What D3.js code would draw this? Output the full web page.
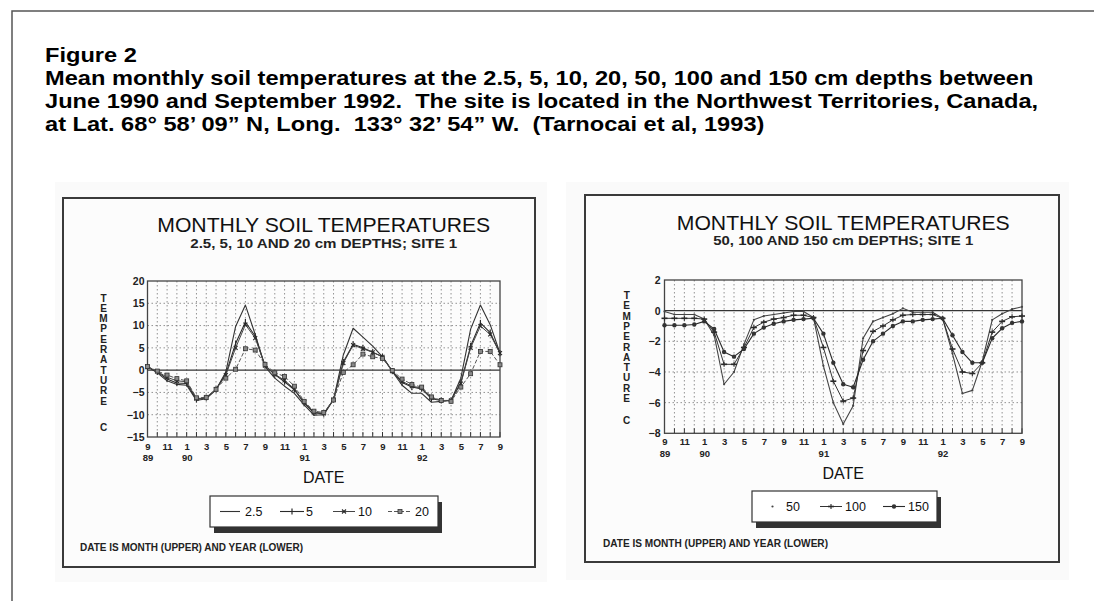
<!DOCTYPE html>
<html>
<head>
<meta charset="utf-8">
<script src="https://cdn.jsdelivr.net/npm/d3@7"></script>
<style>
  html, body { margin: 0; padding: 0; background: #fff; }
  svg { display: block; font-family: "Liberation Sans", Arial, Helvetica, sans-serif; }
</style>
</head>
<body>
<svg id="fig" width="1094" height="601"></svg>
<script>
// ---- Data -----------------------------------------------------------
// Month index 0 = Sep 1989 ... 36 = Sep 1992 (monthly means)
const monthIndex = d3.range(0, 37);
const monthTicks = [0, 2, 4, 6, 8, 10, 12, 14, 16, 18, 20, 22, 24, 26, 28, 30, 32, 34, 36];
const monthLabels = ["9", "11", "1", "3", "5", "7", "9", "11", "1", "3", "5", "7", "9", "11", "1", "3", "5", "7", "9"];
const yearTicks = [0, 4, 16, 28];
const yearLabels = ["89", "90", "91", "92"];

// Shallow depths (cm), degrees C
const shallowDepths = ["2.5", "5", "10", "20"];
const temp2_5 = [0.8, -0.6, -2.4, -3.2, -3.4, -6.8, -6.4, -4.4, -0.4, 9.8, 14.6, 8.0, 0.8, -1.8, -3.6, -5.2, -7.8, -10.1, -10.0, -6.6, 3.4, 9.4, 7.4, 5.4, 3.0, -0.3, -3.4, -5.2, -5.2, -7.2, -7.0, -6.8, -1.8, 9.2, 14.6, 10.2, 3.8];
const temp5   = [0.7, -0.4, -2.0, -2.9, -3.0, -6.6, -6.2, -4.3, -0.9, 6.0, 10.8, 7.6, 1.0, -1.0, -2.6, -4.4, -7.4, -9.6, -9.8, -6.6, 1.8, 5.8, 5.0, 4.0, 3.0, -0.2, -2.8, -3.8, -4.2, -6.4, -6.8, -6.8, -2.8, 5.4, 10.6, 8.4, 3.8];
const temp10  = [0.7, -0.3, -1.6, -2.4, -2.6, -6.4, -6.2, -4.3, -1.1, 5.0, 10.2, 7.2, 1.0, -0.9, -2.3, -4.2, -7.2, -9.4, -9.7, -6.6, 1.6, 5.6, 4.8, 4.0, 3.0, -0.2, -2.5, -3.6, -4.0, -6.2, -6.8, -6.8, -3.0, 5.0, 9.9, 8.0, 3.8];
const temp20  = [0.8, -0.2, -1.1, -1.9, -2.4, -6.2, -6.1, -4.3, -1.8, 0.2, 4.8, 4.5, 1.3, -0.6, -1.4, -3.6, -7.0, -9.2, -9.5, -6.7, -0.5, 1.2, 3.6, 3.0, 2.6, -0.1, -2.0, -3.2, -3.8, -6.0, -6.8, -7.0, -3.8, -0.8, 4.2, 4.2, 1.2];
const shallowTicks = [20, 15, 10, 5, 0, -5, -10, -15];

// Deep depths (cm), degrees C
const deepDepths = ["50", "100", "150"];
const temp50  = [-0.05, -0.25, -0.25, -0.25, -0.55, -1.6, -4.8, -4.0, -2.2, -0.6, -0.35, -0.25, -0.15, -0.05, -0.05, -0.45, -3.6, -6.0, -7.4, -6.2, -1.8, -0.7, -0.45, -0.2, 0.15, -0.1, -0.1, -0.1, -0.5, -2.8, -5.4, -5.2, -3.3, -0.6, -0.2, 0.1, 0.25];
const temp100 = [-0.5, -0.5, -0.5, -0.5, -0.55, -1.4, -3.5, -3.5, -2.4, -1.1, -0.75, -0.55, -0.45, -0.3, -0.3, -0.45, -2.4, -4.6, -5.9, -5.7, -2.6, -1.35, -1.0, -0.6, -0.3, -0.25, -0.25, -0.25, -0.5, -2.5, -4.0, -4.1, -3.4, -1.4, -0.7, -0.4, -0.35];
const temp150 = [-0.95, -0.95, -0.95, -0.9, -0.7, -1.2, -2.7, -3.0, -2.5, -1.5, -1.1, -0.85, -0.7, -0.6, -0.55, -0.5, -1.5, -3.4, -4.8, -5.0, -3.2, -2.0, -1.5, -1.0, -0.7, -0.7, -0.6, -0.55, -0.5, -1.6, -2.7, -3.4, -3.4, -1.8, -1.15, -0.8, -0.7];
const deepTicks = [2, 0, -2, -4, -6, -8];

const captionLines = [
  "Figure 2",
  "Mean monthly soil temperatures at the 2.5, 5, 10, 20, 50, 100 and 150 cm depths between",
  "June 1990 and September 1992.  The site is located in the Northwest Territories, Canada,",
  "at Lat. 68\u00B0 58\u2019 09\u201D N, Long.  133\u00B0 32\u2019 54\u201D W.  (Tarnocai et al, 1993)"
];

// ---- Page frame and caption ------------------------------------------
const svg = d3.select("#fig");
const INK = "#2a2a2a";

svg.append("path")
  .attr("d", "M12,601 V11 H1094")
  .attr("fill", "none").attr("stroke", "#555").attr("stroke-width", 1.5);

const cap = svg.append("g").attr("transform", "translate(45,0) scale(1.125,1)");
captionLines.forEach((line, i) => {
  cap.append("text")
    .attr("x", 0).attr("y", 61.7 + i * 23)
    .attr("font-size", 21).attr("font-weight", "bold").attr("fill", "#000")
    .style("white-space", "pre")
    .text(line);
});

// ---- Marker shapes ----------------------------------------------------
function drawMarker(g, type, x, y) {
  if (type === "tick") {
    g.append("line").attr("x1", x).attr("x2", x).attr("y1", y - 3).attr("y2", y + 3)
      .attr("stroke", INK).attr("stroke-width", 1.2);
  } else if (type === "plus") {
    g.append("line").attr("x1", x).attr("x2", x).attr("y1", y - 2.5).attr("y2", y + 2.5)
      .attr("stroke", INK).attr("stroke-width", 1.1);
    g.append("line").attr("x1", x - 3).attr("x2", x + 3).attr("y1", y).attr("y2", y)
      .attr("stroke", INK).attr("stroke-width", 1.6);
  } else if (type === "x") {
    g.append("path").attr("d", `M${x-2},${y-2}L${x+2},${y+2}M${x-2},${y+2}L${x+2},${y-2}`)
      .attr("stroke", INK).attr("stroke-width", 1.1);
  } else if (type === "square") {
    g.append("rect").attr("x", x - 2).attr("y", y - 2).attr("width", 4).attr("height", 4)
      .attr("fill", "#888").attr("stroke", "#333").attr("stroke-width", 0.8);
  } else if (type === "dot") {
    g.append("circle").attr("cx", x).attr("cy", y).attr("r", 1.1).attr("fill", "#444");
  } else if (type === "bigdot") {
    g.append("circle").attr("cx", x).attr("cy", y).attr("r", 2.2).attr("fill", "#333");
  }
}

// ---- One chart panel --------------------------------------------------
function drawPanel(cfg) {
  const g = svg.append("g");

  // scanned sheet and its border
  g.append("rect").attr("x", cfg.sheet[0]).attr("y", cfg.sheet[1])
    .attr("width", cfg.sheet[2]).attr("height", cfg.sheet[3]).attr("fill", "#fafafa");
  g.append("rect").attr("x", cfg.frame[0]).attr("y", cfg.frame[1])
    .attr("width", cfg.frame[2] - cfg.frame[0]).attr("height", cfg.frame[3] - cfg.frame[1])
    .attr("fill", "#fcfcfc").attr("stroke", "#3a3a3a").attr("stroke-width", 2);

  const x = d3.scaleLinear().domain([0, 36]).range([cfg.plot.left, cfg.plot.right]);
  const y = d3.scaleLinear().domain(cfg.yDomain).range([cfg.plot.bottom, cfg.plot.top]);
  const cx = (cfg.plot.left + cfg.plot.right) / 2;

  // titles
  g.append("text").attr("x", cx).attr("y", cfg.titleY).attr("text-anchor", "middle")
    .attr("font-size", 21).attr("fill", "#111")
    .attr("textLength", cfg.titleW).attr("lengthAdjust", "spacingAndGlyphs")
    .text("MONTHLY SOIL TEMPERATURES");
  g.append("text").attr("x", cx).attr("y", cfg.subY).attr("text-anchor", "middle")
    .attr("font-size", 12).attr("font-weight", "bold").attr("fill", "#222")
    .attr("textLength", cfg.subW).attr("lengthAdjust", "spacingAndGlyphs")
    .text(cfg.subtitle);

  // vertical axis title, stacked letters
  const word = "TEMPERATURE".split("");
  word.forEach((ch, i) => {
    g.append("text").attr("x", cfg.yTitleX).attr("y", cfg.yTitleTop + i * cfg.yTitleStep)
      .attr("text-anchor", "middle").attr("font-size", 10).attr("font-weight", "bold")
      .attr("fill", "#222").text(ch);
  });
  g.append("text").attr("x", cfg.yTitleX).attr("y", cfg.unitY)
    .attr("text-anchor", "middle").attr("font-size", 10).attr("font-weight", "bold")
    .attr("fill", "#222").text("C");

  // grid
  const grid = g.append("g");
  grid.selectAll("line.v").data(monthIndex.slice(1, -1)).join("line")
    .attr("x1", d => x(d)).attr("x2", d => x(d))
    .attr("y1", cfg.plot.top).attr("y2", cfg.plot.bottom)
    .attr("stroke", "#777").attr("stroke-width", 0.8).attr("stroke-dasharray", "1.5,2.5");
  grid.selectAll("line.h").data(cfg.yTicks.filter(t => t !== 0 && t !== cfg.yDomain[0] && t !== cfg.yDomain[1])).join("line")
    .attr("x1", cfg.plot.left).attr("x2", cfg.plot.right)
    .attr("y1", d => y(d)).attr("y2", d => y(d))
    .attr("stroke", "#777").attr("stroke-width", 0.8).attr("stroke-dasharray", "1.5,2.5");
  // month tick marks along the bottom edge
  grid.selectAll("line.t").data(monthIndex).join("line")
    .attr("x1", d => x(d)).attr("x2", d => x(d))
    .attr("y1", cfg.plot.bottom).attr("y2", cfg.plot.bottom - 5)
    .attr("stroke", "#333").attr("stroke-width", 1);
  // zero line
  g.append("line").attr("x1", cfg.plot.left).attr("x2", cfg.plot.right)
    .attr("y1", y(0)).attr("y2", y(0)).attr("stroke", "#333").attr("stroke-width", 1.4);

  // plot frame
  g.append("rect").attr("x", cfg.plot.left).attr("y", cfg.plot.top)
    .attr("width", cfg.plot.right - cfg.plot.left).attr("height", cfg.plot.bottom - cfg.plot.top)
    .attr("fill", "none").attr("stroke", "#444").attr("stroke-width", 1.3);

  // axes
  const yAxis = g.append("g").attr("transform", `translate(${cfg.plot.left},0)`)
    .call(d3.axisLeft(y).tickValues(cfg.yTicks).tickSize(0).tickPadding(cfg.yPad).tickFormat(d3.format("d")));
  const xAxis = g.append("g").attr("transform", `translate(0,${cfg.plot.bottom})`)
    .call(d3.axisBottom(x).tickValues(monthTicks).tickSize(0).tickPadding(cfg.monthPad)
      .tickFormat((d, i) => monthLabels[i]));
  const yrAxis = g.append("g").attr("transform", `translate(0,${cfg.plot.bottom})`)
    .call(d3.axisBottom(x).tickValues(yearTicks).tickSize(0).tickPadding(cfg.yearPad)
      .tickFormat((d, i) => yearLabels[i]));
  [yAxis, xAxis, yrAxis].forEach(a => {
    a.select(".domain").remove();
    a.selectAll("text").attr("font-size", 9.5).attr("font-weight", "bold")
      .attr("fill", "#222").attr("font-family", "Liberation Sans, Arial, sans-serif");
  });
  yAxis.selectAll("text").attr("font-size", 10.5);

  g.append("text").attr("x", cx).attr("y", cfg.dateY).attr("text-anchor", "middle")
    .attr("font-size", 16).attr("fill", "#111").text("DATE");

  // series
  const line = d3.line().x((d, i) => x(i)).y(d => y(d));
  cfg.series.forEach(s => {
    g.append("path").datum(s.values).attr("d", line)
      .attr("fill", "none").attr("stroke", s.color).attr("stroke-width", s.width)
      .attr("stroke-dasharray", s.dash || null).attr("stroke-linejoin", "round");
    if (s.marker !== "none") {
      const mg = g.append("g");
      s.values.forEach((v, i) => drawMarker(mg, s.marker, x(i), y(v)));
    }
  });

  // legend with drop shadow
  const L = cfg.legend;
  g.append("rect").attr("x", L.x + 4).attr("y", L.y + 6).attr("width", L.w).attr("height", L.h)
    .attr("fill", "#333");
  g.append("rect").attr("x", L.x).attr("y", L.y).attr("width", L.w).attr("height", L.h)
    .attr("fill", "#fff").attr("stroke", "#333").attr("stroke-width", 1.2);
  cfg.series.forEach((s, i) => {
    const it = L.items[i];
    const ly = L.y + L.h / 2;
    if (it.lineW > 0) {
      g.append("line").attr("x1", it.x).attr("x2", it.x + it.lineW).attr("y1", ly).attr("y2", ly)
        .attr("stroke", s.color).attr("stroke-width", s.width).attr("stroke-dasharray", s.dash || null);
    }
    if (s.marker !== "none") drawMarker(g, s.marker, it.x + (it.lineW > 0 ? it.lineW / 2 : 0), ly);
    g.append("text").attr("x", it.tx).attr("y", ly + 4.5).attr("font-size", 12.5)
      .attr("fill", "#111").text(s.name);
  });

  g.append("text").attr("x", cfg.noteX).attr("y", cfg.noteY)
    .attr("font-size", 10.5).attr("font-weight", "bold").attr("fill", "#222")
    .attr("textLength", cfg.noteW).attr("lengthAdjust", "spacingAndGlyphs")
    .text("DATE IS MONTH (UPPER) AND YEAR (LOWER)");
}

// ---- Left chart: shallow depths ---------------------------------------
drawPanel({
  sheet: [55, 182, 492, 400],
  frame: [63, 198, 535, 567],
  plot: { left: 147.5, right: 500, top: 281, bottom: 437 },
  yDomain: [-15, 20], yTicks: shallowTicks, yPad: 3,
  titleY: 231.5, titleW: 333, subY: 248.3, subW: 267,
  subtitle: "2.5, 5, 10 AND 20 cm DEPTHS; SITE 1",
  yTitleX: 103.5, yTitleTop: 301.5, yTitleStep: 10.3, unitY: 430.5,
  monthPad: 6, yearPad: 17.5, dateY: 483,
  series: [
    { name: shallowDepths[0], values: temp2_5, color: "#333", width: 1.1, marker: "none" },
    { name: shallowDepths[1], values: temp5, color: "#2a2a2a", width: 1.1, marker: "tick" },
    { name: shallowDepths[2], values: temp10, color: "#444", width: 1.0, marker: "x" },
    { name: shallowDepths[3], values: temp20, color: "#555", width: 1.0, marker: "square", dash: "4,2" }
  ],
  legend: { x: 210, y: 496, w: 228, h: 31,
    items: [ { x: 220, lineW: 20, tx: 245 }, { x: 280, lineW: 24, tx: 306 },
             { x: 333, lineW: 22, tx: 358 }, { x: 388, lineW: 24, tx: 415 } ] },
  noteX: 80, noteY: 550.5, noteW: 223
});

// ---- Right chart: deep depths -----------------------------------------
drawPanel({
  sheet: [566, 182, 503, 398],
  frame: [585, 195, 1059, 562],
  plot: { left: 664.5, right: 1022, top: 280, bottom: 433.3 },
  yDomain: [-8, 2], yTicks: deepTicks, yPad: 4,
  titleY: 230, titleW: 333, subY: 245, subW: 260,
  subtitle: "50, 100 AND 150 cm DEPTHS; SITE 1",
  yTitleX: 626.7, yTitleTop: 299, yTitleStep: 10.3, unitY: 424,
  monthPad: 4.7, yearPad: 16.5, dateY: 479,
  series: [
    { name: deepDepths[0], values: temp50, color: "#444", width: 1.1, marker: "dot" },
    { name: deepDepths[1], values: temp100, color: "#333", width: 1.0, marker: "plus" },
    { name: deepDepths[2], values: temp150, color: "#2a2a2a", width: 1.1, marker: "bigdot" }
  ],
  legend: { x: 752, y: 491, w: 185, h: 31,
    items: [ { x: 772.5, lineW: 0, tx: 786 }, { x: 820, lineW: 22, tx: 845 },
             { x: 883, lineW: 22, tx: 908 } ] },
  noteX: 603, noteY: 546.5, noteW: 225
});
</script>
</body>
</html>
